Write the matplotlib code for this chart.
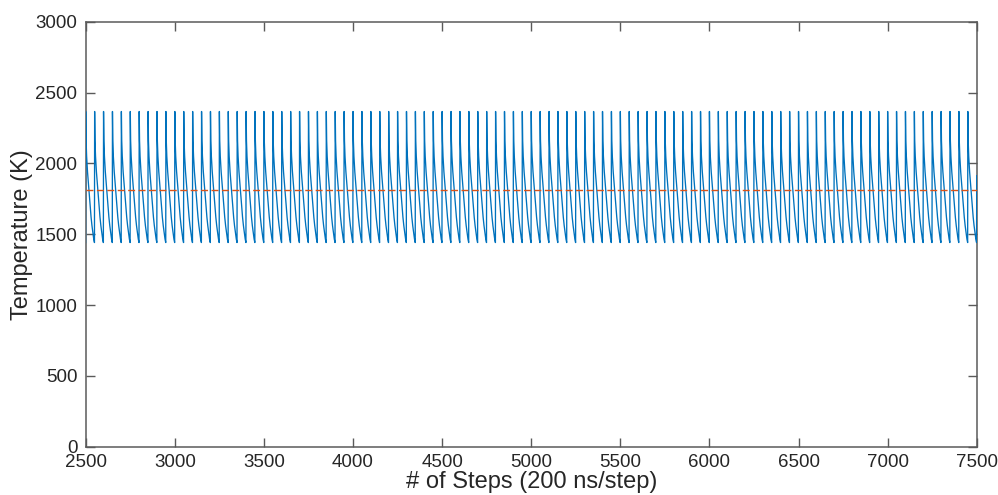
import numpy as np
import matplotlib
matplotlib.use("Agg")
import matplotlib.pyplot as plt

plt.rcParams['font.family'] = ['Liberation Sans', 'DejaVu Sans']

# one heating/cooling cycle: steps after the pulse and temperature (K)
cycle_offsets = [0, 2, 5, 10, 15, 20, 25, 30, 35, 40, 45, 49]
cycle_temps = [2366, 2160, 2050, 1940, 1860, 1780, 1700, 1620, 1560, 1510, 1465, 1441]
cycle_period = 50
first_pulse = 2500
last_pulse = 7450
end_step = 7500
end_temp = 1913
melting_point = 1811

x_ticks = [2500, 3000, 3500, 4000, 4500, 5000, 5500, 6000, 6500, 7000, 7500]
y_ticks = [0, 500, 1000, 1500, 2000, 2500, 3000]

pulses = np.arange(first_pulse, last_pulse + 1, cycle_period)
steps = (pulses[:, None] + np.array(cycle_offsets)[None, :]).ravel()
temps = np.tile(cycle_temps, len(pulses))
steps = np.concatenate([[first_pulse - 1], steps, [end_step]])
temps = np.concatenate([[cycle_temps[-1]], temps, [end_temp]])

fig = plt.figure(figsize=(9.98, 4.95), dpi=100)
ax = fig.add_axes([0.0859, 0.0976, 0.8928, 0.8586])

ax.plot(steps, temps, color='#0072BD', lw=0.95, zorder=3)
ax.axhline(melting_point, color='#D95319', lw=1.0, ls=(0, (5, 2.5)), zorder=3)

ax.set_xlim(2500, 7500)
ax.set_ylim(0, 3000)
ax.set_xticks(x_ticks)
ax.set_yticks(y_ticks)

axis_gray = '#5a5a5a'
for s in ax.spines.values():
    s.set_color(axis_gray)
    s.set_linewidth(1.1)
ax.tick_params(direction='in', length=6.5, width=1.0, color=axis_gray,
               top=True, right=True, labelsize=13.5, labelcolor='#262626')
ax.tick_params(axis='x', pad=5)
ax.tick_params(axis='y', pad=6)

ax.set_xlabel('# of Steps (200 ns/step)', fontsize=17, color='#262626', labelpad=0)
ax.set_ylabel('Temperature (K)', fontsize=17, color='#262626', labelpad=2)

fig.savefig('out.png', dpi=100)
